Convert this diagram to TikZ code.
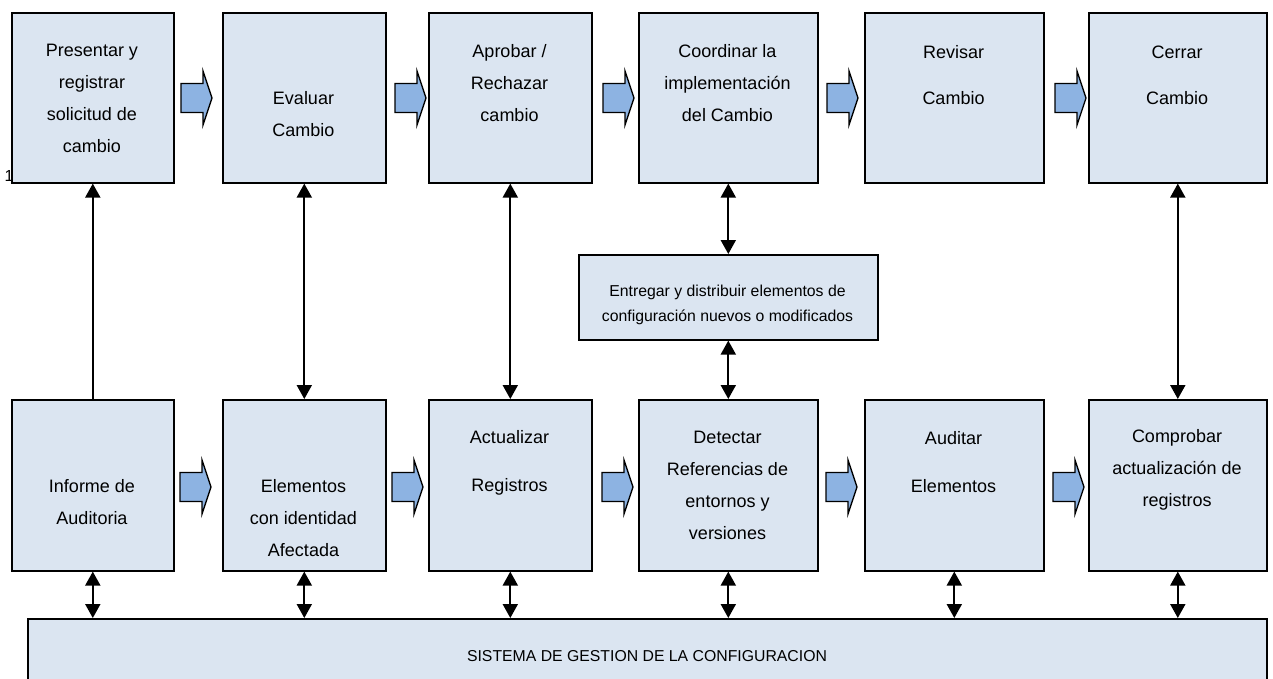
\documentclass[tikz,border=0pt]{standalone}
\usepackage{fontspec}
\setmainfont{Liberation Sans}
\usetikzlibrary{arrows.meta,calc}
\definecolor{boxfill}{HTML}{DBE5F1}
\definecolor{arrowfill}{HTML}{8DB3E2}

\begin{document}
\begin{tikzpicture}[x=1pt,y=-1pt,
  box/.style={draw=black,line width=1.6pt,fill=boxfill,inner sep=0pt,anchor=north west},
  toprow/.style={box,minimum height=170pt},
  botrow/.style={box,minimum height=171pt},
  lbl/.style={align=center,font=\fontsize{18}{32}\selectfont,inner sep=0pt},
  small/.style={align=center,font=\fontsize{15.8}{25}\selectfont,inner sep=0pt},
  link/.style={line width=2pt,{Triangle[width=15pt,length=14pt]}-{Triangle[width=15pt,length=14pt]}},
  uplink/.style={line width=2pt,-{Triangle[width=15pt,length=14pt]}},
  pics/flowarrow/.style={code={
    \draw[line width=1.3pt,fill=arrowfill,line join=miter]
      (0,-14.5) -- (22,-14.5) -- (22,-27) -- (31,0) -- (22,27) -- (22,14.5) -- (0,14.5) -- cycle;}}
]
\clip (0,0) rectangle (1273,678);

% stray numeral partly hidden by the first box
\node[font=\fontsize{16}{16}\selectfont,inner sep=0pt] (num) at (9,176) {1};

% upper row of process steps
\node[toprow,minimum width=162pt] (tb1) at (11,12) {};
\node[toprow,minimum width=163pt] (tb2) at (222,12) {};
\node[toprow,minimum width=163pt] (tb3) at (428,12) {};
\node[toprow,minimum width=179pt] (tb4) at (638,12) {};
\node[toprow,minimum width=179pt] (tb5) at (864,12) {};
\node[toprow,minimum width=178pt] (tb6) at (1088,12) {};

\node[lbl] (tt1) at (92,98.5) {Presentar y\\registrar\\solicitud de\\cambio};
\node[lbl] (tt2) at (303.5,114.5) {Evaluar\\Cambio};
\node[lbl] (tt3) at (509.5,83) {Aprobar /\\Rechazar\\cambio};
\node[lbl] (tt4) at (727.5,83) {Coordinar la\\implementación\\del Cambio};
\node[lbl] (tt5) at (953.5,75) {Revisar\\[14pt]Cambio};
\node[lbl] (tt6) at (1177,75) {Cerrar\\[14pt]Cambio};

% lower row of control activities
\node[botrow,minimum width=162pt] (bb1) at (11,399) {};
\node[botrow,minimum width=163pt] (bb2) at (222,399) {};
\node[botrow,minimum width=163pt] (bb3) at (428,399) {};
\node[botrow,minimum width=179pt] (bb4) at (638,399) {};
\node[botrow,minimum width=179pt] (bb5) at (864,399) {};
\node[botrow,minimum width=178pt] (bb6) at (1088,399) {};

\node[lbl] (bt1) at (92,502.5) {Informe de\\Auditoria};
\node[lbl] (bt2) at (303.5,518) {Elementos\\con identidad\\Afectada};
\node[lbl] (bt3) at (509.5,462.5) {Actualizar\\[16pt]Registros};
\node[lbl] (bt4) at (727.5,485.5) {Detectar\\Referencias de\\entornos y\\versiones};
\node[lbl] (bt5) at (953.5,462.5) {Auditar\\[16pt]Elementos};
\node[lbl] (bt6) at (1177,470) {Comprobar\\actualización de\\registros};

% delivery box and configuration system
\node[box,minimum width=299pt,minimum height=85pt] (eb) at (578,254) {};
\node[small] (et) at (727.5,305) {Entregar y distribuir elementos de\\configuración nuevos o modificados};
\node[box,minimum width=1239pt,minimum height=90pt] (sb) at (27,618) {};
\node[small] (st) at (647,656) {SISTEMA DE GESTION DE LA CONFIGURACION};

% flow arrows, upper row
\pic at (181,98) {flowarrow};
\pic at (395,98) {flowarrow};
\pic at (603,98) {flowarrow};
\pic at (827,98) {flowarrow};
\pic at (1055,98) {flowarrow};

% flow arrows, lower row
\pic at (180,487) {flowarrow};
\pic at (392,487) {flowarrow};
\pic at (602,487) {flowarrow};
\pic at (826,487) {flowarrow};
\pic at (1053,487) {flowarrow};

% vertical links between the rows
\draw[uplink] (bb1.north) -- (tb1.south);
\draw[link] (tb2.south) -- (bb2.north);
\draw[link] (tb3.south) -- (bb3.north);
\draw[link] (tb4.south) -- (eb.north);
\draw[link] (eb.south) -- (bb4.north);
\draw[link] (tb6.south) -- (bb6.north);

% links to the configuration system
\foreach \b in {bb1,bb2,bb3,bb4,bb5,bb6}
  \draw[link] (\b.south) -- (\b.south |- sb.north);
\end{tikzpicture}
\end{document}
